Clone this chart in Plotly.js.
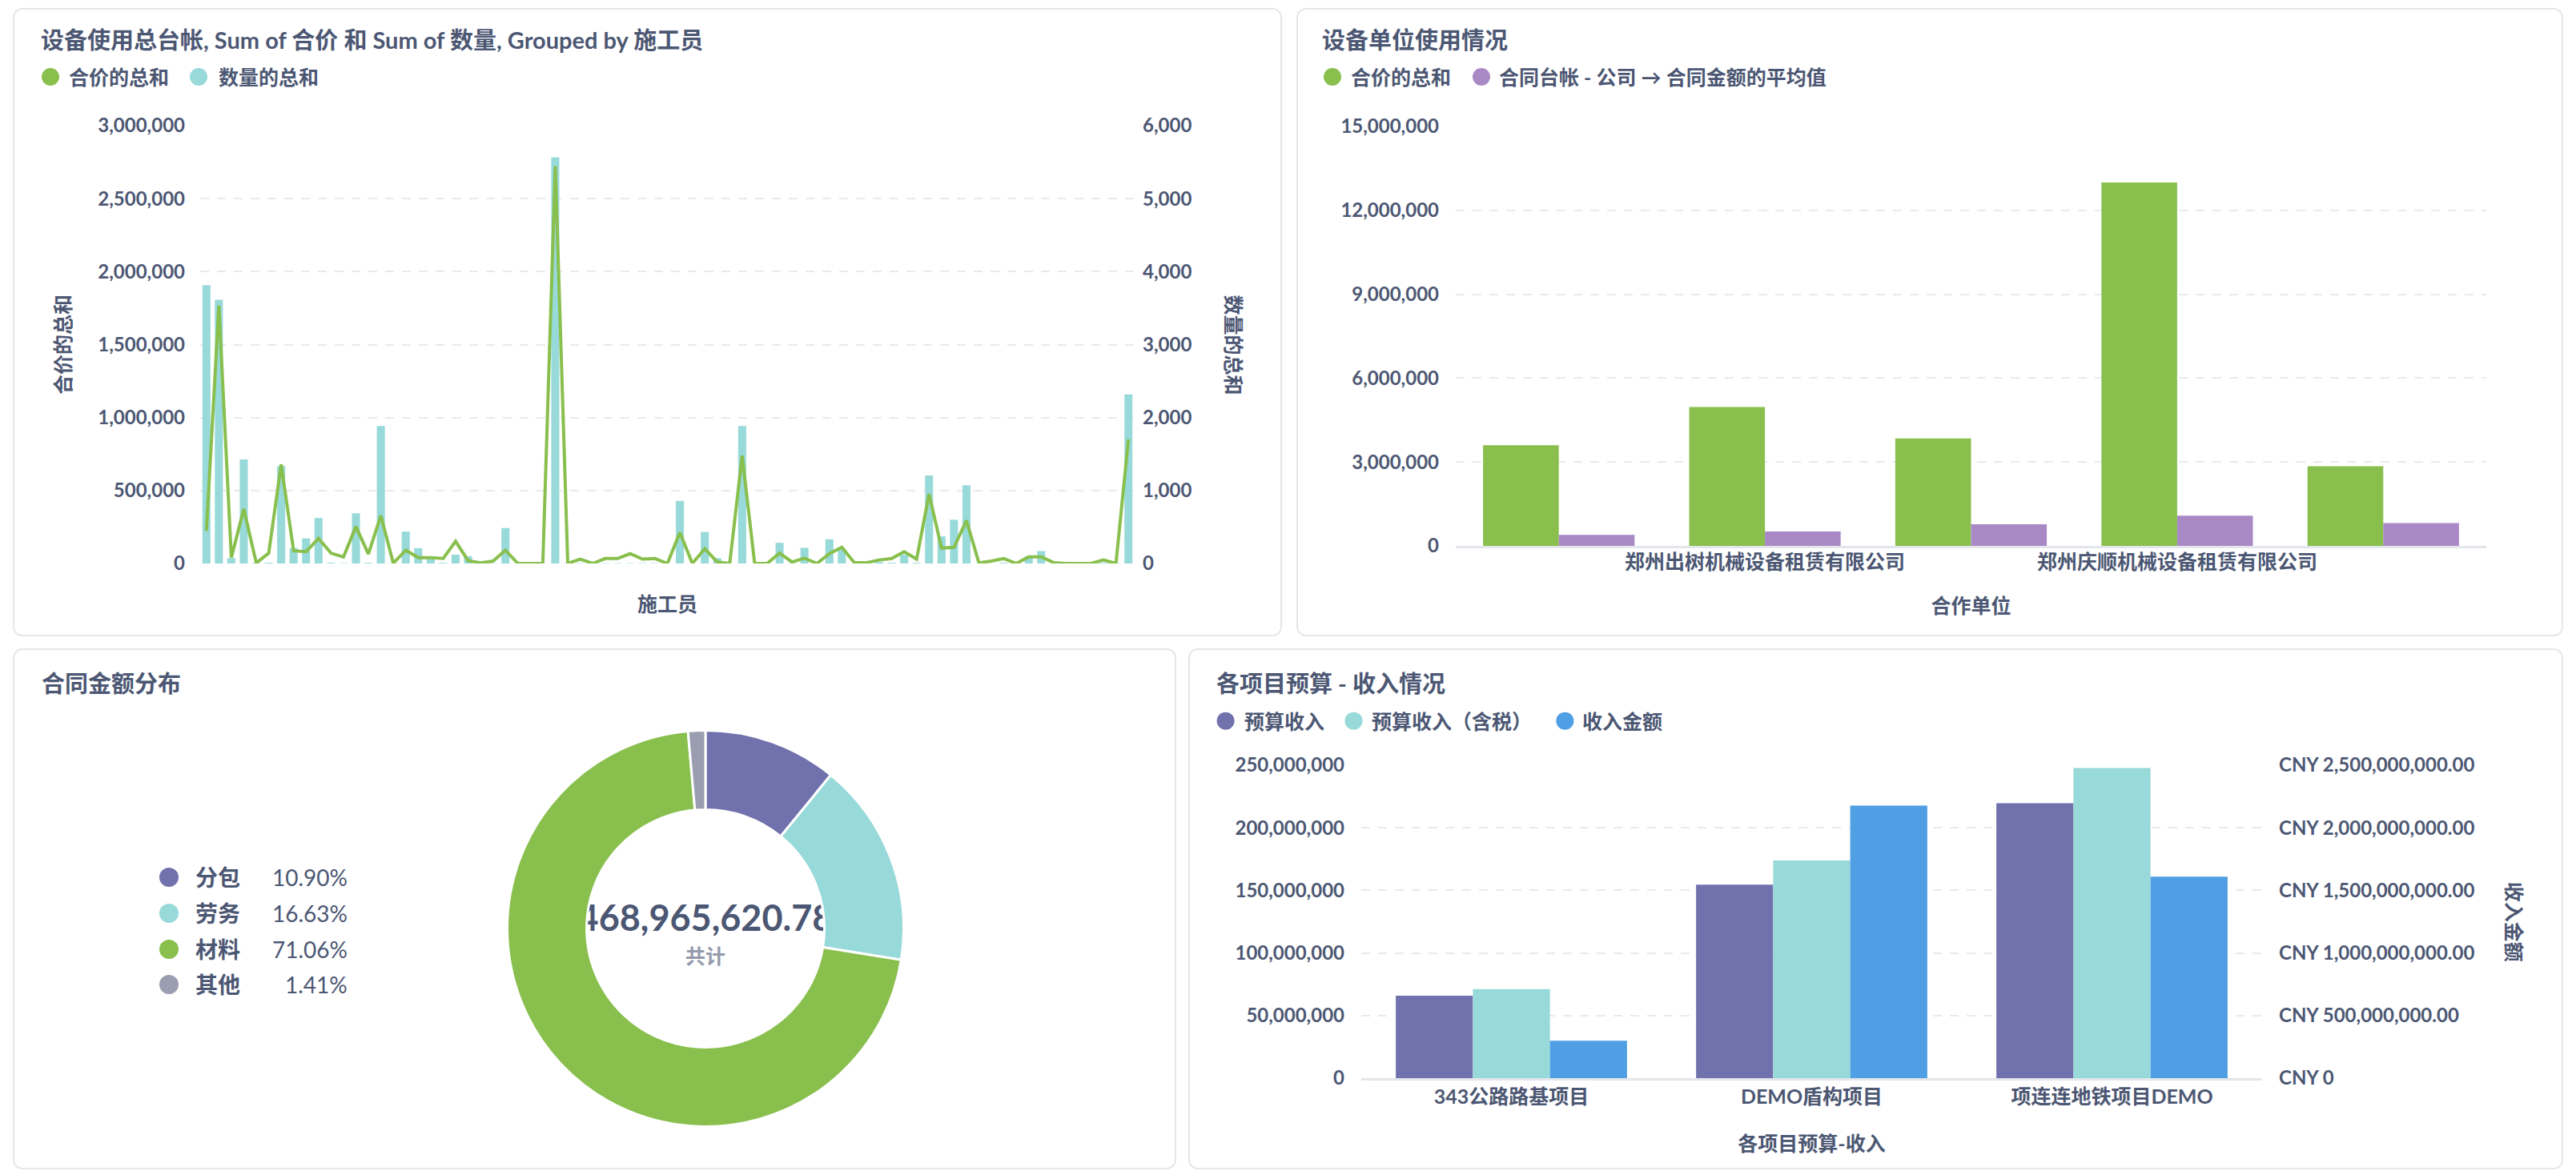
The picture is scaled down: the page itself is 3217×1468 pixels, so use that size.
<!DOCTYPE html>
<html>
<head>
<meta charset="utf-8">
<script src="https://cdn.plot.ly/plotly-3.0.1.min.js"></script>
<style>
html,body{margin:0;padding:0;background:#ffffff;width:3217px;height:1468px;overflow:hidden;}
.card{position:absolute;box-sizing:border-box;border:2px solid #e3e6ea;border-radius:12px;background:#fff;overflow:hidden;}
.card>div{position:absolute;left:0;top:0;}
</style>
</head>
<body>
<div class="card" style="left:16px;top:10px;width:1585px;height:785px"><div id="p1"></div></div>
<div class="card" style="left:1619px;top:10px;width:1582px;height:785px"><div id="p2"></div></div>
<div class="card" style="left:16px;top:810px;width:1453px;height:651px"><div id="p3"></div></div>
<div class="card" style="left:1484px;top:810px;width:1717px;height:651px"><div id="p4"></div></div>
<script>
// ---------------- DATA ----------------
// Chart 1: 设备使用总台帐 (75 施工员, names not shown on axis)
const workers = [1,2,3,4,5,6,7,8,9,10,11,12,13,14,15,16,17,18,19,20,21,22,23,24,25,26,27,28,29,30,31,32,33,34,35,36,37,38,39,40,41,42,43,44,45,46,47,48,49,50,51,52,53,54,55,56,57,58,59,60,61,62,63,64,65,66,67,68,69,70,71,72,73,74,75];
const sumPrice = [222700,1767000,40000,374000,4000,71000,678000,87000,81000,172000,71000,45000,253000,65000,328000,2000,91000,40000,40000,34000,152000,20000,4000,16000,91000,0,0,0,2723000,0,30000,0,34000,34000,67000,30000,34000,0,213000,0,101000,10000,0,739000,0,0,71000,10000,36000,0,67000,111000,6000,6000,24000,34000,81000,30000,476000,105000,111000,294000,4000,16000,34000,0,45000,45000,6000,0,0,0,24000,0,850000];
const sumQty = [3814,3615,73,1425,8,10,1336,210,344,623,10,5,688,10,1883,5,437,210,60,10,121,100,5,5,486,0,0,0,5567,5,5,0,5,5,5,5,5,0,858,0,433,73,0,1883,0,0,283,5,215,0,332,200,0,5,20,10,121,10,1206,372,599,1073,0,0,10,0,100,170,0,0,0,0,10,5,2316];
const c1Names = ['合价的总和','数量的总和'];

// Chart 2: 设备单位使用情况
const partners = ['合作单位一','郑州出树机械设备租赁有限公司','合作单位三','郑州庆顺机械设备租赁有限公司','合作单位五'];
const partnerShown = ['郑州出树机械设备租赁有限公司','郑州庆顺机械设备租赁有限公司'];
const partnerPrice = [3597000,4970000,3845000,12997000,2851000];
const partnerAvgContract = [395000,512000,775000,1082000,819000];
const c2Names = ['合价的总和','合同台帐 - 公司 → 合同金额的平均值'];

// Chart 3: 合同金额分布
const contractTypes = ['分包','劳务','材料','其他'];
const contractAmounts = [51117000,77989000,333247000,6612620.78];

// Chart 4: 各项目预算 - 收入情况
const projects = ['343公路路基项目','DEMO盾构项目','项连连地铁项目DEMO'];
const budgetIncome = [65800000,154600000,219600000];
const budgetIncomeTax = [71200000,173900000,247800000];
const incomeAmount = [299000000,2177000000,1609000000];
const c4Names = ['预算收入','预算收入（含税）','收入金额'];
const c4RightTicks = [0,500000000,1000000000,1500000000,2000000000,2500000000];
const c4RightTickText = ['CNY 0','CNY 500,000,000.00','CNY 1,000,000,000.00','CNY 1,500,000,000.00','CNY 2,000,000,000.00','CNY 2,500,000,000.00'];

// ---------------- STYLE ----------------
const FONT = "Lato, 'Noto Sans CJK SC', 'Noto Sans', sans-serif";
const INK = '#4c5773';
const MUTED = '#949aab';
const GRID = '#e8eaee';
const AXISLINE = '#e3e6ea';
const GREEN = '#88bf4d', TEAL = '#98d9d9', PURPLE_L = '#a989c5', PURPLE = '#7172ad', BLUE = '#509ee3', GRAY = '#9a9eb0';
const cfg = {staticPlot:true, displayModeBar:false};
const tickFont = {family:FONT, size:24, weight:700, color:INK};
const axTitleFont = {family:FONT, size:25, weight:700, color:INK};

function conv(W,H,m){
  const pw = W-m.l-m.r, ph = H-m.t-m.b;
  return {x:(px)=> (px-m.l)/pw, y:(py)=> 1-(py-m.t)/ph};
}
function titleOf(text,W,H,x,y){
  return {text:text, xref:'container', yref:'container', x:x/W, y:1-y/H, xanchor:'left', yanchor:'middle',
          font:{family:FONT, size:29, weight:700, color:INK}, pad:{t:0,b:0,l:0,r:0}};
}
function legendOf(names, colors, cxs, txs, y, W, H, m, d, fsize){
  const c = conv(W,H,m);
  const shapes = [], annotations = [];
  names.forEach((n,i)=>{
    shapes.push({type:'circle', xref:'paper', yref:'paper', xsizemode:'pixel', ysizemode:'pixel',
      xanchor:c.x(cxs[i]), yanchor:c.y(y), x0:-d/2, x1:d/2, y0:-d/2, y1:d/2,
      fillcolor:colors[i], line:{width:0}, layer:'above'});
    annotations.push({xref:'paper', yref:'paper', x:c.x(txs[i]), y:c.y(y), xanchor:'left', yanchor:'middle',
      showarrow:false, text:n, borderpad:0, font:{family:FONT, size:fsize, weight:700, color:INK}});
  });
  return {shapes, annotations};
}

// ---------------- CHART 1 ----------------
(function(){
  const W=1581,H=781,m={l:232,r:182,t:145,b:89};
  const lg = legendOf(c1Names,[GREEN,TEAL],[45,230],[67,254],84,W,H,m,22,25);
  const c = conv(W,H,m);
  const traces = [
    {type:'bar', x:workers, y:sumQty, yaxis:'y', marker:{color:TEAL, line:{width:0}}, name:c1Names[1]},
    {type:'scatter', mode:'lines', x:workers, y:sumPrice, yaxis:'y2', line:{color:GREEN, width:4}, name:c1Names[0]}
  ];
  const layout = {
    width:W, height:H, margin:{l:m.l,r:m.r,t:m.t,b:m.b,pad:0},
    paper_bgcolor:'#fff', plot_bgcolor:'#fff', font:{family:FONT,color:INK}, showlegend:false,
    bargap:0.355,
    title:titleOf('设备使用总台帐, Sum of 合价 和 Sum of 数量, Grouped by 施工员',W,H,33,39),
    xaxis:{type:'category', showticklabels:false, showgrid:false, zeroline:false, showline:false, ticks:'',
      title:{text:'施工员', font:axTitleFont, standoff:42}},
    yaxis:{side:'right', range:[0,6000], tick0:0, dtick:1000, tickformat:',d', showgrid:true, gridcolor:GRID, gridwidth:2,
      griddash:'11px,10px', zeroline:false, showline:false, ticks:'', ticklabelstandoff:9, tickfont:tickFont},
    yaxis2:{overlaying:'y', side:'left', range:[0,3000000], tick0:0, dtick:500000, tickformat:',d', showgrid:false,
      zeroline:false, showline:false, ticks:'', ticklabelstandoff:18, tickfont:tickFont,
      title:{text:'合价的总和', font:axTitleFont, standoff:26}},
    shapes:lg.shapes,
    annotations:lg.annotations.concat([{xref:'paper', yref:'paper', x:c.x(1523), y:0.5, xanchor:'center', yanchor:'middle',
      textangle:90, showarrow:false, text:'数量的总和', font:axTitleFont}])
  };
  Plotly.newPlot('p1', traces, layout, cfg);
})();

// ---------------- CHART 2 ----------------
(function(){
  const W=1578,H=781,m={l:197,r:94,t:146,b:111};
  const lg = legendOf(c2Names,[GREEN,PURPLE_L],[43,229],[65,250],84,W,H,m,22,25);
  const traces = [
    {type:'bar', x:partners, y:partnerPrice, marker:{color:GREEN}, name:c2Names[0]},
    {type:'bar', x:partners, y:partnerAvgContract, marker:{color:PURPLE_L}, name:c2Names[1]}
  ];
  const layout = {
    width:W, height:H, margin:{l:m.l,r:m.r,t:m.t,b:m.b,pad:0},
    paper_bgcolor:'#fff', plot_bgcolor:'#fff', font:{family:FONT,color:INK}, showlegend:false,
    barmode:'group', bargap:0.265, bargroupgap:0,
    title:titleOf('设备单位使用情况',W,H,30,39),
    xaxis:{type:'category', tickmode:'array', tickvals:partnerShown, ticktext:partnerShown, showgrid:false, zeroline:false,
      showline:true, linecolor:AXISLINE, linewidth:3, ticks:'', ticklabelstandoff:-4, tickfont:{family:FONT,size:25,weight:700,color:INK},
      title:{text:'合作单位', font:axTitleFont, standoff:34}},
    yaxis:{range:[0,15000000], tick0:0, dtick:3000000, tickformat:',d', showgrid:true, gridcolor:GRID, gridwidth:2,
      griddash:'11px,10px', zeroline:false, showline:false, ticks:'', ticklabelstandoff:20, tickfont:tickFont},
    shapes:lg.shapes, annotations:lg.annotations
  };
  Plotly.newPlot('p2', traces, layout, cfg);
})();

// ---------------- CHART 3 ----------------
(function(){
  const W=1449,H=647,m={l:0,r:0,t:0,b:0};
  const c = conv(W,H,m);
  const cx=863, cy=348, R=247.5;
  const colors=[PURPLE,TEAL,GREEN,GRAY];
  const total = contractAmounts.reduce((a,b)=>a+b,0);
  const totalText = total.toLocaleString('en-US',{minimumFractionDigits:2,maximumFractionDigits:2});
  const shapes = [], annotations = [];
  const rows=[284,329,374,418];
  contractTypes.forEach((t,i)=>{
    shapes.push({type:'circle', xref:'paper', yref:'paper', xsizemode:'pixel', ysizemode:'pixel',
      xanchor:c.x(193), yanchor:c.y(rows[i]), x0:-12, x1:12, y0:-12, y1:12, fillcolor:colors[i], line:{width:0}});
    annotations.push({xref:'paper', yref:'paper', x:c.x(225), y:c.y(rows[i]), xanchor:'left', yanchor:'middle', showarrow:false,
      text:t, borderpad:0, font:{family:FONT,size:28,weight:700,color:INK}});
    annotations.push({xref:'paper', yref:'paper', x:c.x(417), y:c.y(rows[i]), xanchor:'right', yanchor:'middle', showarrow:false,
      text:(contractAmounts[i]/total*100).toFixed(2)+'%', borderpad:0, font:{family:FONT,size:28,weight:400,color:INK}});
  });
  // centre texts drawn below the ring
  shapes.push({type:'rect', xref:'paper', yref:'paper', layer:'below', x0:c.x(cx-300), x1:c.x(cx+300), y0:c.y(358), y1:c.y(308),
    line:{width:0}, fillcolor:'rgba(0,0,0,0)', label:{text:totalText, textposition:'middle center',
    font:{family:FONT,size:45,weight:700,color:INK}}});
  shapes.push({type:'rect', xref:'paper', yref:'paper', layer:'below', x0:c.x(cx-100), x1:c.x(cx+100), y0:c.y(400), y1:c.y(364),
    line:{width:0}, fillcolor:'rgba(0,0,0,0)', label:{text:'共计', textposition:'middle center',
    font:{family:FONT,size:25,weight:700,color:MUTED}}});
  const traces=[{type:'pie', labels:contractTypes, values:contractAmounts, hole:0.6, sort:false, direction:'clockwise', rotation:0,
    textinfo:'none', marker:{colors:colors, line:{color:'#ffffff', width:3}},
    domain:{x:[c.x(cx-R), c.x(cx+R)], y:[c.y(cy+R), c.y(cy-R)]}, showlegend:false}];
  const layout = {
    width:W, height:H, margin:{l:0,r:0,t:0,b:0,pad:0}, paper_bgcolor:'rgba(0,0,0,0)', font:{family:FONT,color:INK},
    showlegend:false, title:titleOf('合同金额分布',W,H,34,43), shapes:shapes, annotations:annotations
  };
  Plotly.newPlot('p3', traces, layout, cfg);
})();

// ---------------- CHART 4 ----------------
(function(){
  const W=1713,H=647,m={l:213.5,r:374,t:143.5,b:111.5};
  const c = conv(W,H,m);
  const lg = legendOf(c4Names,[PURPLE,TEAL,BLUE],[44,204,468],[66,226,489],88,W,H,m,22,25);
  const traces = [
    {type:'bar', x:projects, y:budgetIncome, yaxis:'y', marker:{color:PURPLE}, offsetgroup:'1', alignmentgroup:'g', name:c4Names[0]},
    {type:'bar', x:projects, y:budgetIncomeTax, yaxis:'y', marker:{color:TEAL}, offsetgroup:'2', alignmentgroup:'g', name:c4Names[1]},
    {type:'bar', x:projects, y:incomeAmount, yaxis:'y2', marker:{color:BLUE}, offsetgroup:'3', alignmentgroup:'g', name:c4Names[2]}
  ];
  const layout = {
    width:W, height:H, margin:{l:m.l,r:m.r,t:m.t,b:m.b,pad:0},
    paper_bgcolor:'#fff', plot_bgcolor:'#fff', font:{family:FONT,color:INK}, showlegend:false,
    barmode:'group', bargap:0.23, bargroupgap:0,
    title:titleOf('各项目预算 - 收入情况',W,H,33,43),
    xaxis:{type:'category', showgrid:false, zeroline:false, showline:true, linecolor:AXISLINE, linewidth:3, ticks:'',
      ticklabelstandoff:-1, tickfont:{family:FONT,size:25,weight:700,color:INK},
      title:{text:'各项目预算-收入', font:axTitleFont, standoff:38}},
    yaxis:{range:[0,250000000], tick0:0, dtick:50000000, tickformat:',d', showgrid:true, gridcolor:GRID, gridwidth:2,
      griddash:'11px,10px', zeroline:false, showline:false, ticks:'', ticklabelstandoff:20, tickfont:tickFont},
    yaxis2:{overlaying:'y', side:'right', range:[0,2500000000], tickmode:'array', tickvals:c4RightTicks, ticktext:c4RightTickText,
      showgrid:false, zeroline:false, showline:false, ticks:'', ticklabelstandoff:20, tickfont:tickFont},
    shapes:lg.shapes,
    annotations:lg.annotations.concat([{xref:'paper', yref:'paper', x:c.x(1655), y:0.5, xanchor:'center', yanchor:'middle',
      textangle:90, showarrow:false, text:'收入金额', font:axTitleFont}])
  };
  Plotly.newPlot('p4', traces, layout, cfg);
})();
</script>
</body>
</html>
